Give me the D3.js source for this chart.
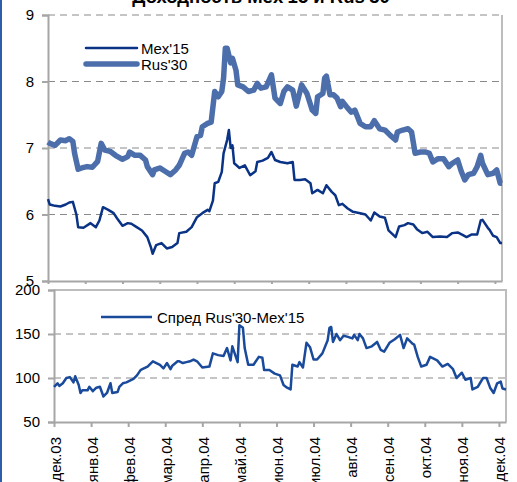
<!DOCTYPE html>
<html>
<head>
<meta charset="utf-8">
<script src="https://cdn.jsdelivr.net/npm/d3@7"></script>
<style>
    body { margin: 0; background: #fff; }
    svg text { font-family: Arial, "Liberation Sans", sans-serif; fill: #000; }
</style>
</head>
<body>
<div id="chart"></div>
<script>
//day = trading day number, 0 = начало дек.03
var mexDays = [0, 1, 4, 7, 10, 12, 14, 16, 17, 20, 24, 27, 29, 31, 34, 37, 39, 42, 45, 47, 50, 53, 56, 58, 59, 61, 64, 67, 70, 73, 74, 78, 81, 84, 87, 90, 91, 93, 94, 96, 98, 99, 101, 102, 103, 104, 105, 108, 111, 114, 117, 118, 121, 124, 126, 128, 131, 135, 138, 139, 142, 145, 148, 149, 152, 155, 157, 160, 162, 164, 166, 169, 172, 176, 179, 182, 184, 187, 190, 192, 196, 198, 201, 203, 206, 208, 211, 214, 217, 221, 225, 228, 231, 234, 236, 239, 242, 244, 245, 248, 249, 251, 253, 255, 256];
var mexVals = [6.23, 6.15, 6.13, 6.12, 6.15, 6.18, 6.19, 6.0, 5.81, 5.8, 5.87, 5.81, 5.91, 6.11, 6.07, 6.02, 5.94, 5.83, 5.87, 5.86, 5.81, 5.76, 5.66, 5.51, 5.41, 5.54, 5.57, 5.49, 5.51, 5.57, 5.72, 5.74, 5.81, 5.96, 6.02, 6.07, 6.05, 6.21, 6.47, 6.49, 6.64, 6.92, 7.12, 7.27, 7.0, 7.04, 6.77, 6.7, 6.74, 6.59, 6.65, 6.79, 6.81, 6.85, 6.94, 6.82, 6.79, 6.77, 6.79, 6.52, 6.52, 6.53, 6.47, 6.32, 6.37, 6.32, 6.44, 6.34, 6.29, 6.14, 6.16, 6.09, 6.04, 6.02, 6.0, 5.91, 6.03, 5.97, 5.95, 5.76, 5.66, 5.82, 5.84, 5.87, 5.85, 5.78, 5.72, 5.74, 5.66, 5.67, 5.66, 5.72, 5.73, 5.69, 5.66, 5.7, 5.7, 5.91, 5.92, 5.8, 5.77, 5.68, 5.66, 5.57, 5.57];

var rusDays = [0, 1, 4, 7, 10, 12, 14, 15, 17, 19, 22, 25, 28, 30, 32, 35, 38, 42, 45, 46, 49, 52, 55, 56, 59, 60, 63, 66, 69, 72, 74, 77, 79, 81, 84, 86, 87, 90, 92, 94, 96, 98, 99, 100, 101, 103, 104, 106, 107, 110, 113, 116, 118, 120, 123, 126, 128, 131, 133, 135, 138, 140, 143, 146, 149, 151, 152, 155, 156, 157, 159, 161, 163, 165, 166, 169, 171, 173, 176, 179, 182, 184, 187, 190, 193, 196, 197, 200, 203, 205, 207, 210, 213, 215, 217, 220, 223, 226, 228, 231, 233, 235, 237, 240, 242, 244, 245, 248, 251, 253, 255, 256];
var rusVals = [7.09, 7.07, 7.04, 7.12, 7.11, 7.14, 7.1, 6.92, 6.68, 6.7, 6.72, 6.71, 6.8, 7.07, 6.97, 6.95, 6.89, 6.83, 6.87, 6.94, 6.89, 6.89, 6.82, 6.72, 6.6, 6.67, 6.7, 6.65, 6.6, 6.67, 6.74, 6.92, 6.94, 6.89, 7.17, 7.19, 7.32, 7.37, 7.39, 7.85, 7.77, 7.85, 8.05, 8.5, 8.5, 8.28, 8.35, 8.17, 7.95, 7.92, 7.85, 7.87, 7.97, 7.9, 7.92, 8.1, 7.75, 7.67, 7.85, 7.92, 7.87, 7.63, 7.95, 7.82, 7.57, 7.52, 7.77, 7.82, 8.05, 8.08, 7.8, 7.8, 7.75, 7.62, 7.7, 7.6, 7.54, 7.57, 7.37, 7.32, 7.32, 7.41, 7.29, 7.27, 7.19, 7.12, 7.24, 7.27, 7.29, 7.24, 6.92, 6.94, 6.94, 6.92, 6.79, 6.84, 6.84, 6.72, 6.77, 6.82, 6.65, 6.52, 6.6, 6.62, 6.72, 6.89, 6.77, 6.6, 6.62, 6.67, 6.47, 6.47];

var sprDays = [0, 2, 3, 5, 7, 9, 11, 12, 14, 15, 16, 19, 20, 22, 24, 26, 28, 30, 32, 33, 36, 37, 39, 41, 43, 45, 47, 49, 50, 53, 54, 56, 58, 60, 62, 64, 66, 67, 70, 71, 73, 75, 77, 79, 81, 84, 88, 90, 93, 96, 98, 100, 101, 104, 105, 107, 108, 110, 113, 116, 118, 119, 122, 125, 128, 130, 132, 134, 135, 138, 139, 141, 143, 145, 147, 149, 152, 155, 156, 157, 158, 160, 162, 164, 166, 169, 170, 172, 173, 175, 177, 180, 183, 185, 187, 190, 193, 196, 198, 200, 203, 204, 206, 208, 211, 213, 215, 217, 220, 223, 226, 228, 231, 233, 236, 237, 240, 243, 245, 247, 249, 251, 253, 254, 256];
var sprVals = [90, 94, 91, 94, 100, 101, 95, 102, 92, 83, 86, 86, 90, 85, 89, 90, 79, 83, 94, 83, 84, 90, 94, 95, 97, 99, 103, 109, 110, 113, 115, 119, 117, 115, 111, 117, 110, 114, 119, 119, 117, 118, 119, 121, 119, 112, 113, 128, 126, 125, 134, 120, 136, 118, 160, 157, 134, 115, 115, 124, 123, 109, 109, 105, 103, 92, 89, 87, 115, 113, 118, 112, 140, 135, 121, 121, 128, 143, 157, 158, 141, 150, 143, 148, 147, 145, 149, 143, 150, 145, 134, 136, 141, 132, 130, 140, 144, 149, 134, 145, 139, 138, 124, 113, 115, 124, 122, 120, 113, 116, 110, 100, 106, 98, 100, 87, 90, 100, 100, 89, 83, 94, 96, 88, 87];

var monthLabels = ["дек.03", "янв.04", "фев.04", "мар.04", "апр.04", "май.04", "июн.04", "июл.04", "авг.04", "сен.04", "окт.04", "ноя.04", "дек.04"];
var monthStep = 21; //trading days between month ticks
var lastDay = 256;

var yieldTicks = [5, 6, 7, 8, 9];
var spreadTicks = [50, 100, 150, 200];

var width = 517, height = 482;
var gridColor = "#8a8a8a", axisColor = "#a6a6a6";

var svg = d3.select("#chart")
        .append("svg")
        .attr("width", width)
        .attr("height", height);

//blue frame edge on the left
svg.append("line")
    .attr("x1", 1).attr("x2", 1)
    .attr("y1", 0).attr("y2", height)
    .attr("stroke", "#2f5ea8")
    .attr("stroke-width", 2);

//title (cut at the top in the original)
svg.append("text")
    .attr("x", 261)
    .attr("y", 3)
    .attr("text-anchor", "middle")
    .style("font-size", "18.5px")
    .style("font-weight", "bold")
    .text("Доходность Mex'15 и Rus'30");

var tickDays = monthLabels.map((m, i) => i * monthStep);

//----- top panel: yields  (NB: "top" is taken by window.top)
var box1 = { left: 48, right: 502, top: 15, bottom: 281 };
var x1 = d3.scaleLinear().domain([0, lastDay]).range([box1.left, box1.right]);
var y1 = d3.scaleLinear().domain([5, 9]).range([box1.bottom, box1.top]);

var g1 = svg.append("g");

//dashed grid
g1.selectAll(".grid1")
    .data(yieldTicks.slice(1))
    .enter()
    .append("line")
    .attr("x1", box1.left).attr("x2", box1.right)
    .attr("y1", d => y1(d)).attr("y2", d => y1(d))
    .attr("stroke", gridColor)
    .attr("stroke-width", 1)
    .attr("stroke-dasharray", "7,5");

//right border
g1.append("line")
    .attr("x1", box1.right).attr("x2", box1.right)
    .attr("y1", box1.top).attr("y2", box1.bottom)
    .attr("stroke", "#bdbdbd").attr("stroke-width", 2);

var yAxis1 = g1.append("g")
    .attr("transform", "translate(" + box1.left + ",0)")
    .call(d3.axisLeft(y1).tickValues(yieldTicks).tickSize(6).tickPadding(8).tickFormat(d3.format("d")));

var xAxis1 = g1.append("g")
    .attr("transform", "translate(0," + box1.bottom + ")")
    .call(d3.axisBottom(x1).tickValues(tickDays).tickSize(3).tickSizeOuter(0).tickFormat(""));

var line1 = d3.line()
    .x(d => x1(d[0]))
    .y(d => y1(d[1]));

g1.append("path")
    .datum(d3.zip(rusDays, rusVals))
    .attr("fill", "none")
    .attr("stroke", "#4c6fab")
    .attr("stroke-width", 5.5)
    .attr("stroke-linejoin", "round")
    .attr("d", line1);

g1.append("path")
    .datum(d3.zip(mexDays, mexVals))
    .attr("fill", "none")
    .attr("stroke", "#0a3386")
    .attr("stroke-width", 2.5)
    .attr("stroke-linejoin", "round")
    .attr("d", line1);

//legend top
var leg1 = [
    { name: "Mex'15", color: "#0a3386", w: 2.5, y: 48 },
    { name: "Rus'30", color: "#4c6fab", w: 5.5, y: 64 }
];
leg1.forEach(l => {
    g1.append("line")
        .attr("x1", 86).attr("x2", 137)
        .attr("y1", l.y).attr("y2", l.y)
        .attr("stroke", l.color)
        .attr("stroke-width", l.w)
        .attr("stroke-linecap", "round");
    g1.append("text")
        .attr("x", 141).attr("y", l.y + 6)
        .style("font-size", "15px")
        .text(l.name);
});

//----- bottom panel: spread
var box2 = { left: 54, right: 506, top: 290, bottom: 422 };
var x2 = d3.scaleLinear().domain([0, lastDay]).range([box2.left, box2.right]);
var y2 = d3.scaleLinear().domain([50, 200]).range([box2.bottom, box2.top]);

var g2 = svg.append("g");

g2.selectAll(".grid2")
    .data([100, 150])
    .enter()
    .append("line")
    .attr("x1", box2.left).attr("x2", box2.right)
    .attr("y1", d => y2(d)).attr("y2", d => y2(d))
    .attr("stroke", gridColor)
    .attr("stroke-width", 1)
    .attr("stroke-dasharray", "7,5");

//top + right border
g2.append("path")
    .attr("d", "M" + box2.left + "," + box2.top + "H" + box2.right + "V" + box2.bottom)
    .attr("fill", "none")
    .attr("stroke", "#bdbdbd").attr("stroke-width", 2);

var yAxis2 = g2.append("g")
    .attr("transform", "translate(" + box2.left + ",0)")
    .call(d3.axisLeft(y2).tickValues(spreadTicks).tickSize(6).tickPadding(8).tickFormat(d3.format("d")));

var xAxis2 = g2.append("g")
    .attr("transform", "translate(0," + box2.bottom + ")")
    .call(d3.axisBottom(x2).tickValues(tickDays).tickSize(5).tickSizeOuter(0).tickFormat((d, i) => monthLabels[i]));

xAxis2.selectAll("text")
    .attr("text-anchor", "end")
    .attr("transform", "translate(6,15) rotate(-90)")
    .attr("x", 0).attr("y", 0).attr("dy", 0);

g2.append("path")
    .datum(d3.zip(sprDays, sprVals))
    .attr("fill", "none")
    .attr("stroke", "#1a4a9b")
    .attr("stroke-width", 2.5)
    .attr("stroke-linejoin", "round")
    .attr("d", d3.line().x(d => x2(d[0])).y(d => y2(d[1])));

g2.append("line")
    .attr("x1", 101).attr("x2", 152)
    .attr("y1", 317).attr("y2", 317)
    .attr("stroke", "#1a4a9b")
    .attr("stroke-width", 2.5);
g2.append("text")
    .attr("x", 157).attr("y", 323)
    .style("font-size", "15px")
    .text("Спред Rus'30-Mex'15");

//axis styling like excel: gray lines, black labels
svg.selectAll(".domain, .tick line")
    .attr("stroke", axisColor)
    .attr("stroke-width", 2);
svg.selectAll(".tick text")
    .style("font-size", "15px")
    .attr("fill", "#000");
</script>
</body>
</html>
